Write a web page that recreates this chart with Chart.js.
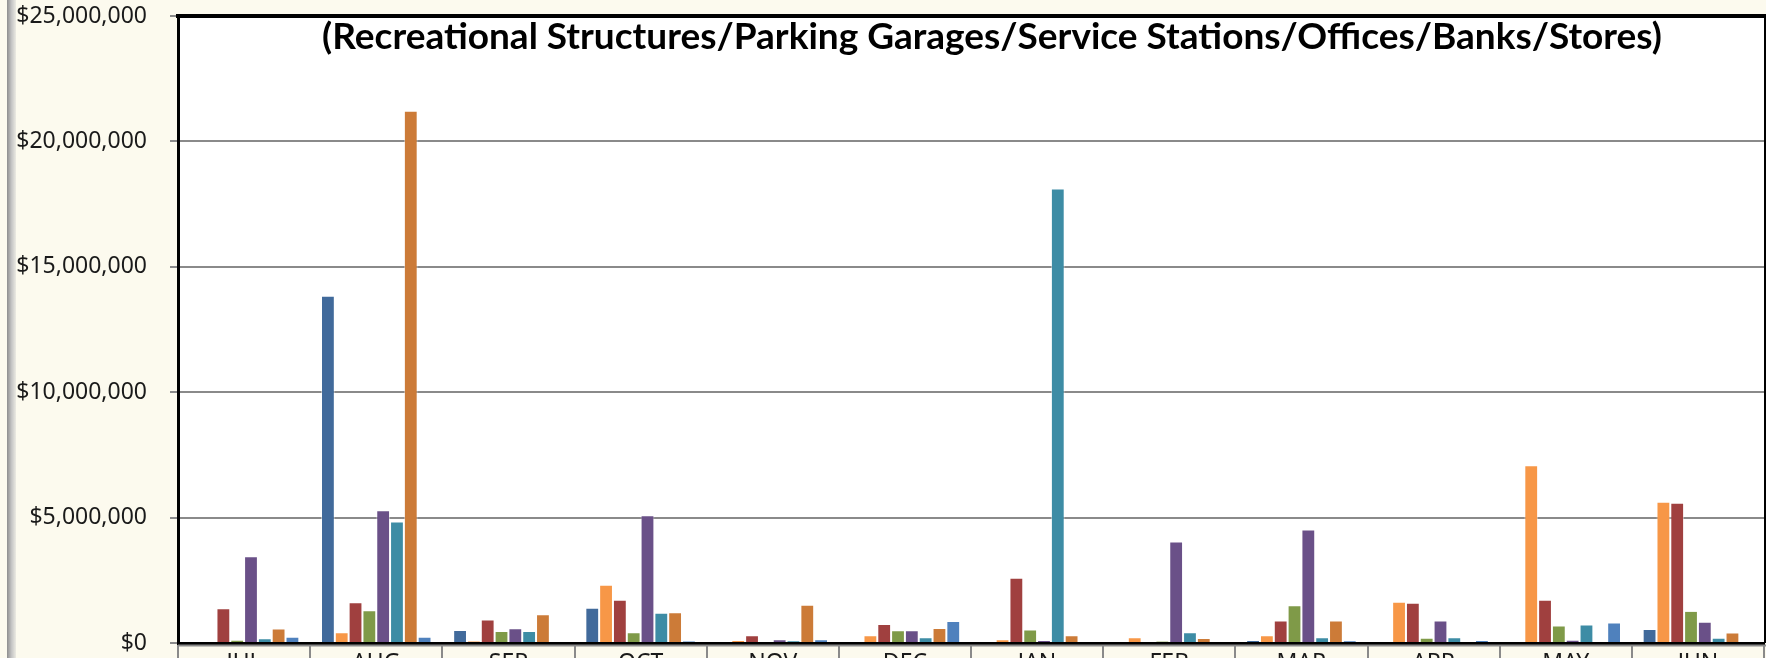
<!DOCTYPE html>
<html>
<head>
<meta charset="utf-8">
<script src="https://cdn.jsdelivr.net/npm/chart.js@4.4.1/dist/chart.umd.min.js"></script>
<style>
  html, body { margin: 0; padding: 0; background: #fcfaee; overflow: hidden; }
  #wrap { position: relative; width: 1766px; height: 658px; overflow: hidden; }
  #edge { position: absolute; left: 7px; top: 0; width: 9px; height: 658px;
          background: linear-gradient(to right, #8e8e8e, #c4c4c4 50%, #ecebe3); }
  canvas { position: absolute; left: 0; top: 0; }
</style>
</head>
<body>
<div id="wrap">
  <canvas id="chart" width="1766" height="680"></canvas>
  <div id="edge"></div>
</div>
<script>
/* ── Data (dollars) ── */
const months = ['JUL', 'AUG', 'SEP', 'OCT', 'NOV', 'DEC', 'JAN', 'FEB', 'MAR', 'APR', 'MAY', 'JUN'];

const series1 = [0, 13850000, 520000, 1410000, 0, 0, 0, 0, 120000, 0, 0, 560000];
const series2 = [40000, 430000, 80000, 2320000, 120000, 310000, 150000, 230000, 310000, 1640000, 7090000, 5630000];
const series3 = [1390000, 1620000, 940000, 1720000, 310000, 760000, 2600000, 0, 900000, 1600000, 1720000, 5590000];
const series4 = [130000, 1310000, 480000, 430000, 40000, 510000, 540000, 70000, 1510000, 210000, 700000, 1280000];
const series5 = [3460000, 5290000, 590000, 5090000, 150000, 510000, 110000, 4050000, 4530000, 900000, 130000, 850000];
const series6 = [190000, 4840000, 480000, 1210000, 100000, 230000, 18120000, 430000, 230000, 230000, 740000, 210000];
const series7 = [580000, 21220000, 1150000, 1230000, 1530000, 600000, 310000, 200000, 900000, 0, 0, 420000];
const series8 = [250000, 250000, 0, 80000, 150000, 880000, 0, 0, 90000, 110000, 820000, 0];

const seriesNames = ['Series 1', 'Series 2', 'Series 3', 'Series 4', 'Series 5', 'Series 6', 'Series 7', 'Series 8'];
const yTicks = [0, 5000000, 10000000, 15000000, 20000000, 25000000];

const TITLE = '(Recreational Structures/Parking Garages/Service Stations/Offices/Banks/Stores)';

/* ── Styles ── */
const COLORS = ['#416a9b', '#f79747', '#a0403f', '#7f9a48', '#6a5088', '#3d8ca5', '#cc7b38', '#4f81bd'];
const TICK_FONT = { family: "'Noto Sans', 'Open Sans', sans-serif", size: 23 };

const allSeries = [series1, series2, series3, series4, series5, series6, series7, series8];

/* ── Frame, white plot area and the in-plot title ── */
const framePlugin = {
  id: 'frame',
  beforeDraw(chart) {
    const { ctx, chartArea: a } = chart;
    ctx.save();
    ctx.fillStyle = '#ffffff';
    ctx.fillRect(a.left, a.top, a.right - a.left, a.bottom - a.top);
    ctx.restore();
  },
  afterDraw(chart) {
    const { ctx, chartArea: a } = chart;
    ctx.save();
    // thin grey line under the zero axis
    ctx.strokeStyle = '#8a8a8a';
    ctx.lineWidth = 2;
    ctx.beginPath();
    ctx.moveTo(a.left, a.bottom + 2.5);
    ctx.lineTo(a.right + 2, a.bottom + 2.5);
    ctx.stroke();

    ctx.strokeStyle = '#000';
    ctx.lineWidth = 4;
    ctx.beginPath();
    ctx.moveTo(a.left - 2, a.top);
    ctx.lineTo(a.right + 2, a.top);
    ctx.stroke();
    ctx.lineWidth = 2;
    ctx.beginPath();
    ctx.moveTo(a.right + 1, a.top);
    ctx.lineTo(a.right + 1, a.bottom);
    ctx.stroke();

    // title, fitted to the reference width
    ctx.font = "bold 30px Lato, 'Open Sans', sans-serif";
    const w = ctx.measureText(TITLE).width;
    const size = 30 * 1340 / w;
    ctx.font = `bold ${size.toFixed(2)}px Lato, 'Open Sans', sans-serif`;
    ctx.fillStyle = '#000';
    ctx.textAlign = 'center';
    ctx.textBaseline = 'alphabetic';
    ctx.fillText(TITLE, (a.left + a.right) / 2 + 21, a.top + 33);
    ctx.restore();
  }
};

new Chart(document.getElementById('chart'), {
  type: 'bar',
  data: {
    labels: months,
    datasets: allSeries.map((d, i) => ({
      label: seriesNames[i],
      data: d,
      backgroundColor: COLORS[i],
      borderColor: 'rgba(255,255,255,0.45)',
      borderWidth: 1,
      borderSkipped: 'bottom',
      categoryPercentage: 0.836,
      barPercentage: 1.0,
    })),
  },
  options: {
    responsive: false,
    animation: false,
    devicePixelRatio: 1,
    layout: { padding: { top: 0, right: 2, left: 0, bottom: 0 } },
    plugins: {
      legend: { display: false },
      title: { display: false },
      tooltip: { enabled: false },
    },
    scales: {
      x: {
        z: 1,
        afterFit(s) { s.height = 37; s.paddingLeft = 0; s.paddingRight = 0; },
        grid: {
          offset: true,
          drawOnChartArea: false,
          drawTicks: true,
          tickLength: 20,
          color: '#8a8a8a',
          lineWidth: 2,
        },
        border: { display: true, color: '#000', width: 3 },
        ticks: { color: '#1a1a1a', font: TICK_FONT, padding: -13, maxRotation: 0, autoSkip: false },
      },
      y: {
        min: 0,
        max: 25000000,
        afterFit(s) { s.width = 178; s.paddingTop = 16; s.paddingBottom = 0; },
        afterBuildTicks(s) { s.ticks = yTicks.map(v => ({ value: v })); },
        grid: { color: '#8a8a8a', lineWidth: 2, tickLength: 8 },
        border: { display: true, color: '#000', width: 3 },
        ticks: {
          color: '#1a1a1a',
          font: TICK_FONT,
          padding: 23,
          callback: v => '$' + Number(v).toLocaleString('en-US'),
        },
      },
    },
  },
  plugins: [framePlugin],
});
</script>
</body>
</html>
